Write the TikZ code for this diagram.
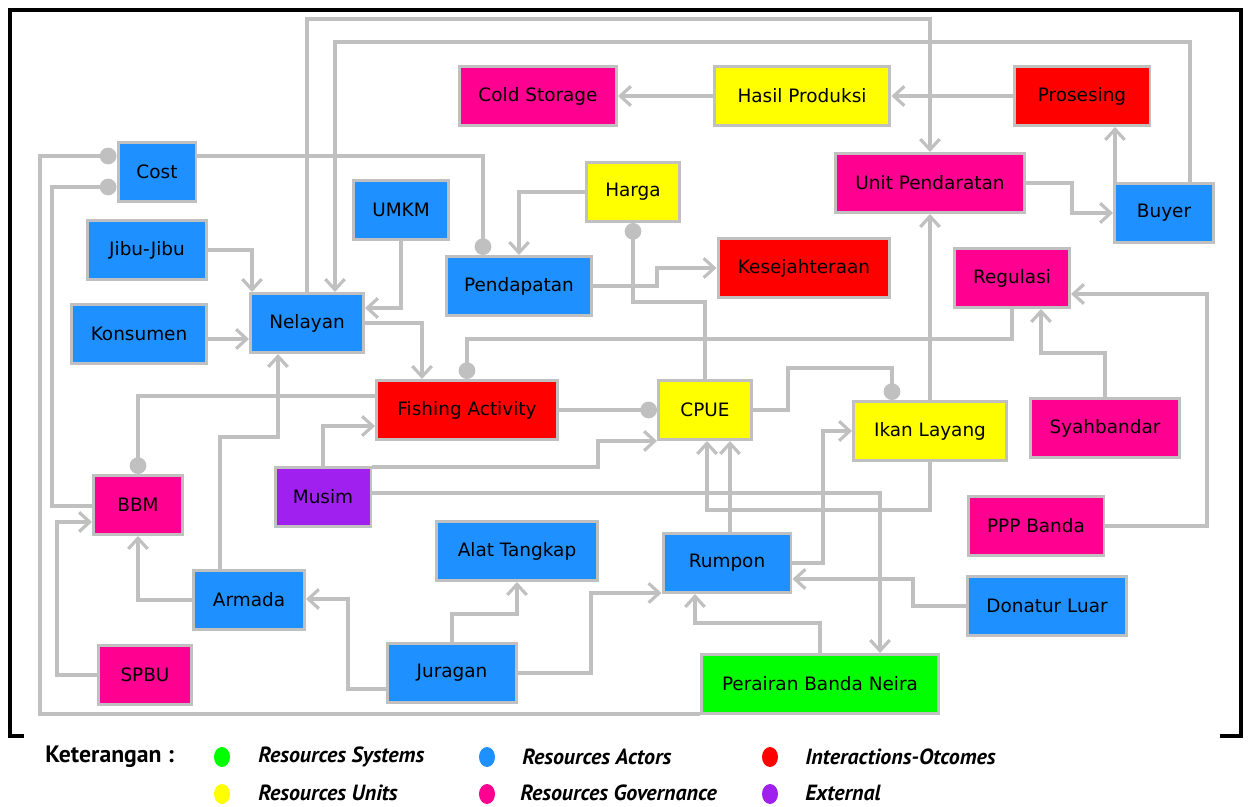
\documentclass[tikz,border=0pt]{standalone}
\usepackage{fontspec}
\setmainfont{DejaVu Sans}
\newfontfamily\legendfont{PT Sans}
\usetikzlibrary{arrows.meta,backgrounds}
\definecolor{actor}{RGB}{30,144,255}
\definecolor{gov}{RGB}{255,0,144}
\definecolor{inter}{RGB}{255,0,0}
\definecolor{unit}{RGB}{255,255,0}
\definecolor{sys}{RGB}{0,255,0}
\definecolor{ext}{RGB}{160,32,240}
\definecolor{lgray}{RGB}{192,192,192}
\begin{document}
\begin{tikzpicture}[x=0.02cm, y=-0.02cm,
    box/.style={draw=lgray, line width=1.7pt, minimum height=1.18cm, inner sep=2pt, font=\fontsize{10.5}{12}\selectfont},
    link/.style={draw=lgray, line width=1.8pt},
    arr/.style={link, -{Straight Barb[length=6pt,width=11pt]}},
    ball/.style={link, -{Circle[length=9.5pt]}},
    legtext/.style={anchor=west, inner sep=0pt, font=\legendfont\fontsize{12.5}{14}\selectfont\bfseries\itshape}]
    \useasboundingbox (0,0) rectangle (1248,807);
    \draw[line width=2.5pt] (24,736) -- (10,736) -- (10,10) -- (1241,10) -- (1241,736) -- (1220,736);

    \node[box, fill=actor, minimum width=1.56cm] (Cost) at (157,172) {Cost};
    \node[box, fill=actor, minimum width=2.40cm] (Jibu) at (147,250) {Jibu-Jibu};
    \node[box, fill=actor, minimum width=2.70cm] (Konsumen) at (139,334) {Konsumen};
    \node[box, fill=actor, minimum width=2.26cm] (Nelayan) at (307,323) {Nelayan};
    \node[box, fill=actor, minimum width=1.90cm] (UMKM) at (401,210) {UMKM};
    \node[box, fill=gov, minimum width=3.14cm] (ColdStorage) at (538,96) {Cold Storage};
    \node[box, fill=unit, minimum width=3.52cm] (HasilProduksi) at (802,96) {Hasil Produksi};
    \node[box, fill=inter, minimum width=2.72cm] (Prosesing) at (1082,96) {Prosesing};
    \node[box, fill=unit, minimum width=1.86cm] (Harga) at (633,192) {Harga};
    \node[box, fill=actor, minimum width=2.92cm] (Pendapatan) at (519,286) {Pendapatan};
    \node[box, fill=inter, minimum width=3.44cm] (Kesejahteraan) at (804,268) {Kesejahteraan};
    \node[box, fill=gov, minimum width=3.78cm] (UnitPendaratan) at (930,183) {Unit Pendaratan};
    \node[box, fill=actor, minimum width=1.98cm] (Buyer) at (1164,213) {Buyer};
    \node[box, fill=gov, minimum width=2.30cm] (Regulasi) at (1012,278) {Regulasi};
    \node[box, fill=inter, minimum width=3.62cm] (FishingActivity) at (467,410) {Fishing Activity};
    \node[box, fill=unit, minimum width=1.86cm] (CPUE) at (705,410) {CPUE};
    \node[box, fill=unit, minimum width=3.06cm] (IkanLayang) at (930,431) {Ikan Layang};
    \node[box, fill=gov, minimum width=2.98cm] (Syahbandar) at (1105,428) {Syahbandar};
    \node[box, fill=ext, minimum width=1.92cm] (Musim) at (323,497) {Musim};
    \node[box, fill=gov, minimum width=1.78cm] (BBM) at (138,505) {BBM};
    \node[box, fill=actor, minimum width=2.22cm] (Armada) at (249,600) {Armada};
    \node[box, fill=gov, minimum width=1.88cm] (SPBU) at (145,675) {SPBU};
    \node[box, fill=actor, minimum width=2.58cm] (Juragan) at (452,673) {Juragan};
    \node[box, fill=actor, minimum width=3.22cm] (AlatTangkap) at (517,551) {Alat Tangkap};
    \node[box, fill=actor, minimum width=2.56cm] (Rumpon) at (727,563) {Rumpon};
    \node[box, fill=sys, minimum width=4.74cm] (Perairan) at (820,684) {Perairan Banda Neira};
    \node[box, fill=gov, minimum width=2.72cm] (PPPBanda) at (1036,526) {PPP Banda};
    \node[box, fill=actor, minimum width=3.18cm] (Donatur) at (1047,606) {Donatur Luar};

    \coordinate (t1) at (620,19);
    \coordinate (t2a) at (1190,42);
    \coordinate (t2b) at (335,42);
    \coordinate (t3) at (483,156);
    \coordinate (t4a) at (40,714);
    \coordinate (t4b) at (40,156);
    \coordinate (t5a) at (52,506);
    \coordinate (t5b) at (52,187);
    \coordinate (t6) at (252,250);
    \coordinate (t7) at (230,339);
    \coordinate (t8) at (400,308);
    \coordinate (t9) at (422,323);
    \coordinate (t10) at (467,339);
    \coordinate (t11) at (138,396);
    \coordinate (t12a) at (220,437);
    \coordinate (t12b) at (278,437);
    \coordinate (t14a) at (57,675);
    \coordinate (t14b) at (57,522);
    \coordinate (t15a) at (348,689);
    \coordinate (t15b) at (348,599);
    \coordinate (t16) at (323,426);
    \coordinate (t17a) at (598,467);
    \coordinate (t17b) at (598,441);
    \coordinate (t18) at (880,493);
    \coordinate (t20) at (633,302);
    \coordinate (t22) at (657,268);
    \coordinate (t23a) at (788,368);
    \coordinate (t23b) at (892,368);
    \coordinate (t24) at (707,510);
    \coordinate (t25) at (730,532);
    \coordinate (t27) at (823,431);
    \coordinate (t28) at (913,579);
    \coordinate (t29) at (591,593);
    \coordinate (t30) at (517,614);
    \coordinate (t31) at (695,623);
    \coordinate (t34) at (1115,150);
    \coordinate (t35) at (1072,213);
    \coordinate (t36) at (1207,294);
    \coordinate (t37) at (1041,353);

    \begin{scope}[on background layer]
        \draw[arr] (Nelayan.north) |- (t1) -| (UnitPendaratan.north);
        \draw[arr] (Buyer.north -| t2a) -- (t2a) -- (t2b) -- (Nelayan.north -| t2b);
        \draw[ball] (Cost.east |- t3) -- (t3) -- (Pendapatan.north -| t3);
        \draw[ball] (Perairan.west |- t4a) -- (t4a) -- (t4b) -- (Cost.west |- t4b);
        \draw[ball] (BBM.west |- t5a) -- (t5a) -- (t5b) -- (Cost.west |- t5b);
        \draw[arr] (Jibu.east |- t6) -- (t6) -- (Nelayan.north -| t6);
        \draw[arr] (Konsumen.east |- t7) -- (Nelayan.west |- t7);
        \draw[arr] (UMKM.south) |- (Nelayan.east |- t8);
        \draw[arr] (Nelayan.east) -| (FishingActivity.north -| t9);
        \draw[ball] (Regulasi.south) |- (t10) -- (FishingActivity.north);
        \draw[ball] (FishingActivity.west |- t11) -| (BBM.north);
        \draw[arr] (Armada.north -| t12a) -- (t12a) -- (t12b) -- (Nelayan.south -| t12b);
        \draw[arr] (Armada.west) -| (BBM.south);
        \draw[arr] (SPBU.west) -| (t14b) -- (BBM.west |- t14b);
        \draw[arr] (Juragan.west |- t15a) -- (t15a) -- (t15b) -- (Armada.east |- t15b);
        \draw[arr] (Musim.north) |- (FishingActivity.west |- t16);
        \draw[arr] (Musim.east |- t17a) -- (t17a) -- (t17b) -- (CPUE.west |- t17b);
        \draw[arr] (Musim.east |- t18) -| (Perairan.north -| t18);
        \draw[ball] (FishingActivity.east) -- (CPUE.west);
        \draw[ball] (CPUE.north) |- (t20) -- (Harga.south);
        \draw[arr] (Harga.west) -| (Pendapatan.north);
        \draw[arr] (Pendapatan.east) -| (t22) -- (Kesejahteraan.west);
        \draw[ball] (CPUE.east) -| (t23a) -- (t23b) -- (IkanLayang.north -| t23b);
        \draw[arr] (IkanLayang.south) |- (t24) -- (CPUE.south -| t24);
        \draw[arr] (Rumpon.north -| t25) -- (CPUE.south -| t25);
        \draw[arr] (IkanLayang.north) -- (UnitPendaratan.south);
        \draw[arr] (Rumpon.east) -| (t27) -- (IkanLayang.west);
        \draw[arr] (Donatur.west) -| (t28) -- (Rumpon.east |- t28);
        \draw[arr] (Juragan.east) -| (t29) -- (Rumpon.west |- t29);
        \draw[arr] (Juragan.north) |- (t30) -- (AlatTangkap.south);
        \draw[arr] (Perairan.north) |- (t31) -- (Rumpon.south -| t31);
        \draw[arr] (HasilProduksi.west) -- (ColdStorage.east);
        \draw[arr] (Prosesing.west) -- (HasilProduksi.east);
        \draw[arr] (Buyer.north -| t34) -- (Prosesing.south -| t34);
        \draw[arr] (UnitPendaratan.east) -| (t35) -- (Buyer.west);
        \draw[arr] (PPPBanda.east) -| (t36) -- (Regulasi.east |- t36);
        \draw[arr] (Syahbandar.north) |- (t37) -- (Regulasi.south -| t37);
    \end{scope}

    \node[anchor=west, inner sep=0pt, font=\legendfont\fontsize{13.5}{15}\selectfont\bfseries] (ket) at (45,757) {Keterangan :};
    \fill[sys] (222,757) ellipse [x radius=0.16cm, y radius=0.2cm];
    \fill[actor] (487,757) ellipse [x radius=0.16cm, y radius=0.2cm];
    \fill[inter] (770,757) ellipse [x radius=0.16cm, y radius=0.2cm];
    \fill[unit] (222,794) ellipse [x radius=0.16cm, y radius=0.2cm];
    \fill[gov] (487,794) ellipse [x radius=0.16cm, y radius=0.2cm];
    \fill[ext] (770,794) ellipse [x radius=0.16cm, y radius=0.2cm];
    \node[legtext] (lsys) at (258,757) {Resources Systems};
    \node[legtext] (lact) at (522,757) {Resources Actors};
    \node[legtext] (lint) at (805,757) {Interactions-Otcomes};
    \node[legtext] (lunit) at (258,793) {Resources Units};
    \node[legtext] (lgov) at (520,793) {Resources Governance};
    \node[legtext] (lext) at (805,793) {External};
\end{tikzpicture}
\end{document}
